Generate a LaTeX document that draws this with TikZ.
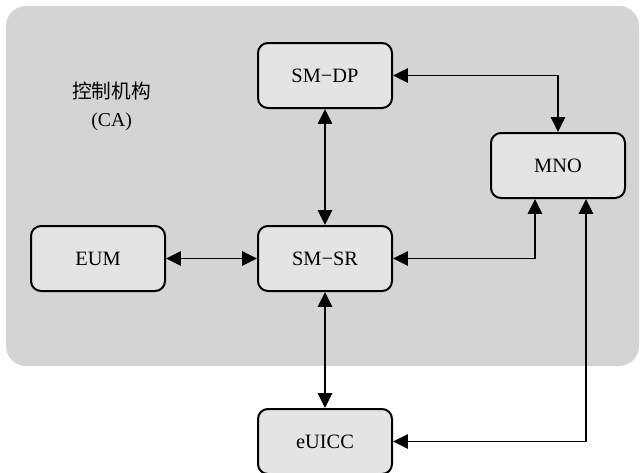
\documentclass[tikz,border=0pt]{standalone}
\usepackage{fontspec}
\setmainfont{Liberation Serif}
\newfontfamily\cjk{Noto Sans CJK SC}
\usepackage{tikz}
\usetikzlibrary{arrows.meta,positioning}
\definecolor{regiongray}{RGB}{212,212,212}
\definecolor{boxgray}{RGB}{228,228,228}

\begin{document}
\begin{tikzpicture}[
    entity/.style={rectangle, draw, fill=boxgray, line width=0.05cm, rounded corners=0.25cm, minimum width=3.35cm, minimum height=1.625cm, inner sep=0pt, align=center, font=\fontsize{14.5}{17}\selectfont},
    link/.style={{Triangle[length=0.37cm,width=0.36cm]}-{Triangle[length=0.37cm,width=0.36cm]}, line width=0.035cm},
    node distance=2.9cm and 2.275cm
]
    \useasboundingbox (0,0) rectangle (16,-11.8);

    % CA region
    \fill[regiongray, rounded corners=0.5cm] (0.15,-0.15) rectangle (15.975,-9.15);
    \node[align=center, font=\fontsize{14}{19.5}\selectfont] (ca) at (2.79,-2.66) {{\cjk 控制机构}\\(CA)};

    % Entities
    \node[entity] (smsr) at (8.125,-6.4625) {SM−SR};
    \node[entity, above=of smsr] (smdp) {SM−DP};
    \node[entity, left=of smsr] (eum) {EUM};
    \node[entity, below=of smsr] (euicc) {eUICC};
    \node[entity, above right=0.65cm and 2.425cm of smsr] (mno) {MNO};

    % Interfaces
    \draw[link] (smdp.south) -- (smsr.north);
    \draw[link] (eum.east) -- (smsr.west);
    \draw[link] (smsr.south) -- (euicc.north);
    \draw[link] (smdp.east) -| (mno.north);
    \draw[link] (smsr.east) -| ([xshift=-0.575cm]mno.south);
    \draw[link] (euicc.east) -| ([xshift=0.7cm]mno.south);
\end{tikzpicture}
\end{document}
